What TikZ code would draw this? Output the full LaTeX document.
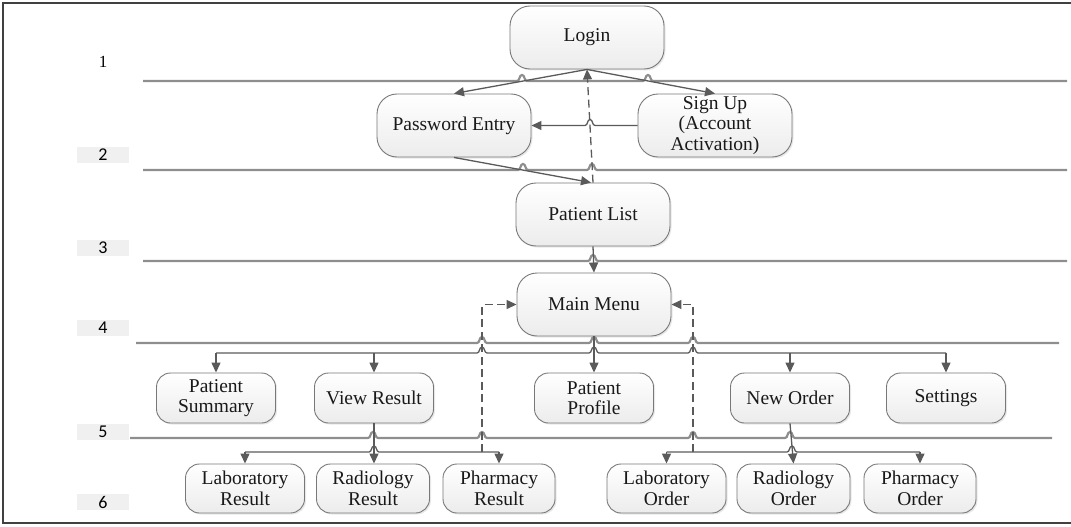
\documentclass[tikz,border=0pt]{standalone}
\usepackage{fontspec}
\setmainfont{Liberation Serif}
\newfontfamily\lanefont{Carlito}
\usetikzlibrary{arrows.meta,shadows}

\definecolor{connector}{HTML}{5A5A5A}
\definecolor{laneline}{HTML}{8E8E8E}
\definecolor{boxedge}{HTML}{787878}
\definecolor{frameline}{HTML}{404040}
\definecolor{tagfill}{HTML}{F0F0F0}

\tikzset{
  block/.style={draw=boxedge, line width=0.9pt, rounded corners=14pt,
    top color=white, bottom color=gray!15, align=center, inner sep=0pt,
    text=black!90, font=\fontsize{19.5}{20.5}\selectfont,
    drop shadow={opacity=0.18, shadow xshift=1.5pt, shadow yshift=-1.5pt}},
  bigblock/.style={block, minimum width=154pt, minimum height=63pt, rounded corners=20pt},
  midblock/.style={block, minimum width=119pt, minimum height=50pt},
  lowblock/.style={block, minimum width=113pt, minimum height=49pt},
  plain/.style={draw=connector, line width=1.3pt},
  link/.style={plain, -{Triangle[length=10pt,width=9pt]}},
  back/.style={link, dash pattern=on 8pt off 4.5pt},
  lane/.style={draw=laneline, line width=2.2pt},
  lanetag/.style={fill=tagfill, minimum width=52pt, minimum height=16pt, inner sep=0pt,
    font=\lanefont\fontsize{18}{18}\selectfont},
}

% horizontal line at height #2 from #3 to #4 with small line jumps at the x values #5
\newcommand\lanehop[5][lane]{%
  \draw[#1] (#3,#2) \foreach \h in {#5}{ -- (\h-5,#2)
      .. controls (\h-2,#2) and (\h-3,#2-6) .. (\h,#2-6)
      .. controls (\h+3,#2-6) and (\h+2,#2) .. (\h+5,#2)} -- (#4,#2);}

\begin{document}
\begin{tikzpicture}[x=1pt,y=-1pt]
\useasboundingbox (0,0) rectangle (1071,527);

% outer frame
\draw[frameline, line width=1.5pt] (1071,3) -- (3,3) -- (3,523) -- (1071,523);

% level numbers
\node[font=\fontsize{17}{17}\selectfont] (t1) at (103,62) {1};
\node[lanetag] (t2) at (103,155) {2};
\node[lanetag] (t3) at (103,248) {3};
\node[lanetag] (t4) at (103,328) {4};
\node[lanetag] (t5) at (103,432) {5};
\node[lanetag] (t6) at (103,502) {6};

% level separators
\lanehop{81}{143}{1067}{522,648}
\lanehop{170}{143}{1067}{523,592}
\lanehop{261}{143}{1067}{593}
\lanehop{343}{136}{1059}{482,594,693}
\lanehop{438}{130}{1052}{373,482,693,790}

% screens
\node[bigblock] (login)  at (587,37.5)  {Login};
\node[bigblock] (pwd)    at (454,125.5) {Password Entry};
\node[bigblock] (signup) at (715,125.5) {Sign Up\\(Account\\Activation)};
\node[bigblock] (plist)  at (593,214.5) {Patient List};
\node[bigblock] (menu)   at (594,304.5) {Main Menu};

\node[midblock] (psum)  at (216,398) {Patient\\Summary};
\node[midblock] (vres)  at (374,398) {View Result};
\node[midblock] (pprof) at (594,398) {Patient\\Profile};
\node[midblock] (nord)  at (790,398) {New Order};
\node[midblock] (sett)  at (946,398) {Settings};

\node[lowblock, minimum width=119pt] (labres) at (245,488.5) {Laboratory\\Result};
\node[lowblock] (radres) at (373,488.5) {Radiology\\Result};
\node[lowblock, minimum width=112pt] (phres)  at (499,488.5) {Pharmacy\\Result};
\node[lowblock, minimum width=119pt] (labord) at (666.5,488.5) {Laboratory\\Order};
\node[lowblock] (radord) at (793.5,488.5) {Radiology\\Order};
\node[lowblock, minimum width=112pt] (phord)  at (920,488.5) {Pharmacy\\Order};

% login flow
\draw[link] (login.south) -- (pwd.north);
\draw[link] (login.south) -- (signup.north);
\draw[link] (signup.west) -- (595,125.5)
  .. controls (592,125.5) and (593,119.5) .. (590,119.5)
  .. controls (587,119.5) and (588,125.5) .. (585,125.5) -- (pwd.east);
\draw[link] (pwd.south) -- ([xshift=-2pt]plist.north);
\draw[back] (plist.north) -- (login.south);
\draw[link] (plist.south) -- (menu.north);

% main menu branches
\coordinate (busA) at (0,353);
\draw[plain] (menu.south) -- (menu.south |- busA);
\lanehop[plain]{353}{216}{946}{482,594,693}
\foreach \n in {psum,vres,pprof,nord,sett}
  \draw[link] (\n.north |- busA) -- (\n.north);

% result branches
\coordinate (busB) at (0,452);
\draw[link] (vres.south) -- (vres.south |- radres.north);
\lanehop[plain]{452}{245}{499}{374}
\foreach \n in {labres,phres}
  \draw[link] (\n.north |- busB) -- (\n.north);

% order branches
\draw[link] (nord.south) -- (radord.north);
\lanehop[plain]{452}{666.5}{920}{792}
\foreach \n in {labord,phord}
  \draw[link] (\n.north |- busB) -- (\n.north);

% returns to the main menu
\coordinate (retL) at (482,452);
\coordinate (retR) at (693,452);
\draw[back] (retL) |- (menu.west);
\draw[back] (retR) |- (menu.east);
\end{tikzpicture}
\end{document}
